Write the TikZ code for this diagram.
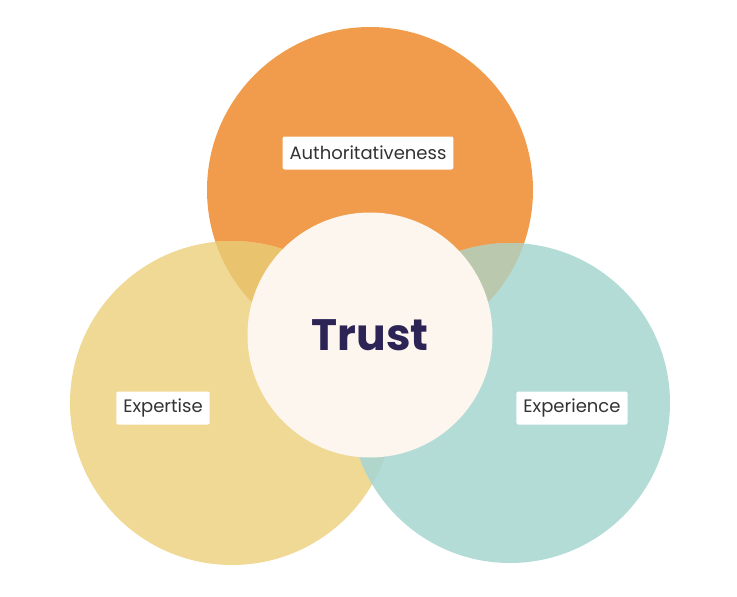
\documentclass[tikz,border=0pt]{standalone}
\usepackage{fontspec}
\setmainfont{Poppins}
\definecolor{authOrange}{HTML}{F09C4C}
\definecolor{expYellow}{HTML}{F0D995}
\definecolor{expTeal}{HTML}{B3DCD7}
\definecolor{mixOY}{HTML}{EAC36E}
\definecolor{mixOT}{HTML}{BAC9AE}
\definecolor{mixYT}{HTML}{B0D6CB}
\definecolor{trustFill}{HTML}{FCF6EF}
\definecolor{trustInk}{HTML}{2D2456}
\begin{document}
\begin{tikzpicture}[x=1pt,y=-1pt]
       \tikzset{label/.style={fill=white,rounded corners=2pt,inner xsep=7pt,
           minimum height=33pt,font=\fontsize{18}{21}\selectfont,text=black!80}}
       \useasboundingbox (0,0) rectangle (737,597);
       \fill[authOrange] (370,190) circle (163);
       \fill[expYellow] (232,403) circle (162);
       \fill[expTeal] (510,403) circle (160);
       % overlaps
       \begin{scope}
         \clip (370,190) circle (163);
         \fill[mixOY] (232,403) circle (162);
         \fill[mixOT] (510,403) circle (160);
       \end{scope}
       \begin{scope}
         \clip (232,403) circle (162);
         \fill[mixYT] (510,403) circle (160);
       \end{scope}
       \node[circle,fill=trustFill,minimum size=245pt,inner sep=0pt] (trust) at (370,335)
           {\fontsize{44}{48}\selectfont\bfseries\color{trustInk}Trust};
       \node[label] (auth) at (368,153) {Authoritativeness};
       \node[label] (expertise) at (163,408) {Expertise};
       \node[label] (experience) at (572,408) {Experience};
   \end{tikzpicture}
\end{document}
